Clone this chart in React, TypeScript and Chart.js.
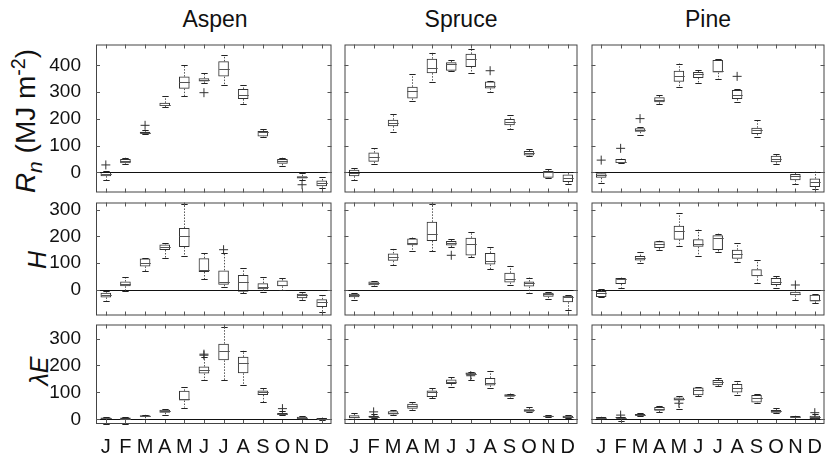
import React, { useEffect, useRef } from 'react';
import { Chart, registerables } from 'chart.js';

Chart.register(...registerables);

// ---------- DATA ----------
const categories = ['Jan', 'Feb', 'Mar', 'Apr', 'May', 'Jun', 'Jul', 'Aug', 'Sep', 'Oct', 'Nov', 'Dec'];
const monthLetters = ['J', 'F', 'M', 'A', 'M', 'J', 'J', 'A', 'S', 'O', 'N', 'D'];
const speciesNames = ['Aspen', 'Spruce', 'Pine'];

const rnTicks = [0, 100, 200, 300, 400];
const hTicks = [0, 100, 200, 300];
const leTicks = [0, 100, 200, 300];
const rnRange = [-75, 478];
const hRange = [-98, 328];
const leRange = [-17, 352];

// box statistics per month: [min, q1, median, q3, max]
const aspenRn = [
  [-30, -14, -6, 2, 5], [30, 34, 42, 50, 55], [142, 145, 148, 152, 158], [243, 248, 253, 260, 285],
  [286, 313, 338, 358, 400], [335, 340, 346, 352, 370], [327, 358, 387, 415, 437], [255, 274, 288, 312, 325],
  [133, 134, 150, 155, 164], [25, 32, 42, 50, 55], [-30, -23, -18, -14, -2], [-57, -52, -40, -30, -18],
];
const spruceRn = [
  [-29, -14, -2, 10, 18], [30, 40, 58, 74, 91], [152, 173, 185, 197, 218], [268, 276, 303, 320, 367],
  [339, 371, 392, 425, 448], [378, 380, 404, 412, 420], [373, 394, 425, 443, 462], [300, 314, 324, 340, 342],
  [161, 176, 189, 200, 213], [60, 63, 74, 80, 88], [-22, -20, 0, 5, 13], [-44, -36, -20, -8, 3],
];
const pineRn = [
  [-38, -20, -8, -3, 0], [34, 35, 40, 50, 52], [141, 152, 160, 165, 168], [255, 262, 271, 281, 290],
  [320, 339, 360, 380, 407], [333, 353, 366, 375, 382], [349, 373, 378, 420, 422], [263, 274, 288, 308, 310],
  [133, 144, 158, 167, 195], [33, 38, 50, 62, 68], [-43, -29, -15, -6, 3], [-61, -54, -36, -23, 3],
];
const aspenH = [
  [-45, -30, -21, -12, -5], [-4, 12, 22, 30, 46], [70, 87, 100, 117, 118], [120, 149, 160, 170, 175],
  [128, 160, 200, 232, 321], [39, 66, 72, 118, 137], [10, 18, 30, 72, 138], [-15, -8, 27, 55, 80],
  [-8, 1, 11, 24, 46], [-2, 12, 17, 34, 44], [-41, -33, -22, -16, -9], [-85, -66, -48, -37, -21],
];
const spruceH = [
  [-41, -29, -19, -16, -14], [14, 16, 23, 30, 32], [93, 108, 122, 136, 154], [146, 167, 177, 192, 196],
  [144, 183, 211, 255, 321], [160, 166, 177, 183, 191], [122, 128, 171, 195, 216], [77, 94, 106, 138, 159],
  [16, 26, 40, 63, 89], [-15, 11, 24, 30, 45], [-37, -27, -18, -12, -10], [-78, -48, -28, -24, -21],
];
const pineH = [
  [-30, -28, -12, -6, 2], [7, 21, 38, 43, 45], [101, 109, 120, 126, 141], [149, 156, 170, 182, 184],
  [163, 188, 222, 240, 287], [128, 161, 172, 189, 226], [140, 149, 193, 205, 211], [104, 116, 132, 150, 174],
  [26, 50, 55, 76, 110], [4, 17, 30, 43, 52], [-40, -22, -17, -8, 0], [-52, -45, -40, -20, -18],
];
const aspenLE = [
  [-17, 1, 4, 7, 9], [-17, 0, 3, 7, 9], [0, 10, 12, 15, 17], [16, 25, 30, 36, 38],
  [44, 70, 75, 106, 119], [146, 170, 183, 196, 232], [146, 219, 255, 281, 343], [128, 171, 208, 232, 255],
  [64, 91, 103, 107, 117], [16, 17, 21, 24, 33], [0, 2, 6, 10, 12], [-1, 1, 3, 5, 7],
];
const spruceLE = [
  [2, 4, 8, 15, 22], [5, 7, 10, 14, 20], [16, 18, 24, 30, 34], [36, 40, 48, 58, 63],
  [79, 83, 100, 107, 118], [121, 131, 139, 148, 159], [147, 166, 170, 174, 176], [115, 126, 134, 154, 180],
  [81, 84, 89, 93, 96], [27, 28, 34, 38, 45], [10, 11, 13, 14, 16], [4, 5, 9, 14, 15],
];
const pineLE = [
  [3, 4, 7, 9, 10], [-5, 5, 7, 9, 10], [12, 14, 17, 20, 22], [26, 32, 40, 46, 50],
  [37, 70, 76, 81, 85], [85, 90, 110, 118, 120], [124, 127, 138, 146, 153], [92, 100, 118, 131, 141],
  [62, 63, 78, 91, 94], [22, 25, 30, 35, 41], [-15, 7, 10, 13, 14], [1, 2, 8, 14, 20],
];

// outliers: [month, value]
const aspenRnOut = [['Jan', 28], ['Mar', 176], ['Jun', 298], ['Nov', -46]];
const spruceRnOut = [['Aug', 380]];
const pineRnOut = [['Jan', 46], ['Feb', 90], ['Mar', 201], ['Aug', 359]];
const aspenHOut = [['Jul', 150]];
const spruceHOut = [['Jun', 129]];
const pineHOut = [['Nov', 17]];
const aspenLEOut = [['Jun', 238], ['Jun', 242], ['Oct', 40]];
const spruceLEOut = [['Feb', 28], ['Jul', 162]];
const pineLEOut = [['Feb', 16], ['May', 60], ['Dec', 25]];

// ---------- LAYOUT ----------
const colLeft = [96, 342, 589];
const colWidth = 238;
const rowTop = [43, 201, 323];
const rowHeight = [152, 117, 101];
const FONT = '"Liberation Sans", Arial, Helvetica, sans-serif';

const rows = [
  { ticks: rnTicks, range: rnRange, stats: [aspenRn, spruceRn, pineRn], outs: [aspenRnOut, spruceRnOut, pineRnOut] },
  { ticks: hTicks, range: hRange, stats: [aspenH, spruceH, pineH], outs: [aspenHOut, spruceHOut, pineHOut] },
  { ticks: leTicks, range: leRange, stats: [aspenLE, spruceLE, pineLE], outs: [aspenLEOut, spruceLEOut, pineLEOut] },
];

function makeDecor(stats: number[][], yTicks: number[]) {
  return {
    id: 'boxDecor',
    afterDatasetsDraw(chart: any) {
      const { ctx, chartArea: a, scales } = chart;
      const x = scales.x;
      const y = scales.y;
      const meta = chart.getDatasetMeta(0);
      ctx.save();
      // zero line
      const y0 = Math.round(y.getPixelForValue(0)) + 0.5;
      ctx.strokeStyle = '#111';
      ctx.lineWidth = 1;
      ctx.beginPath();
      ctx.moveTo(a.left, y0);
      ctx.lineTo(a.right, y0);
      ctx.stroke();
      stats.forEach((s, i) => {
        const px = Math.round(x.getPixelForValue(i)) + 0.5;
        const el = meta.data[i];
        const w = el ? el.width : 10;
        const cap = w * 0.3;
        const pMin = y.getPixelForValue(s[0]);
        const pQ1 = y.getPixelForValue(s[1]);
        const pMed = y.getPixelForValue(s[2]);
        const pQ3 = y.getPixelForValue(s[3]);
        const pMax = y.getPixelForValue(s[4]);
        // whiskers (dotted)
        ctx.strokeStyle = '#555';
        ctx.setLineDash([1.5, 1.5]);
        ctx.beginPath();
        ctx.moveTo(px, pQ3);
        ctx.lineTo(px, pMax);
        ctx.moveTo(px, pQ1);
        ctx.lineTo(px, pMin);
        ctx.stroke();
        ctx.setLineDash([]);
        // caps
        ctx.strokeStyle = '#222';
        ctx.beginPath();
        ctx.moveTo(px - cap, Math.round(pMax) + 0.5);
        ctx.lineTo(px + cap, Math.round(pMax) + 0.5);
        ctx.moveTo(px - cap, Math.round(pMin) + 0.5);
        ctx.lineTo(px + cap, Math.round(pMin) + 0.5);
        ctx.stroke();
        // median
        ctx.strokeStyle = '#555';
        ctx.beginPath();
        ctx.moveTo(px - w / 2, Math.round(pMed) + 0.5);
        ctx.lineTo(px + w / 2, Math.round(pMed) + 0.5);
        ctx.stroke();
      });
      // panel border
      ctx.strokeStyle = '#444';
      ctx.lineWidth = 1;
      ctx.strokeRect(a.left + 0.5, a.top + 0.5, a.right - a.left - 1, a.bottom - a.top - 1);
      // inner tick marks
      ctx.strokeStyle = '#555';
      ctx.beginPath();
      for (let i = 0; i < stats.length; i++) {
        const px = Math.round(x.getPixelForValue(i)) + 0.5;
        ctx.moveTo(px, a.top);
        ctx.lineTo(px, a.top + 4);
        ctx.moveTo(px, a.bottom);
        ctx.lineTo(px, a.bottom - 4);
      }
      yTicks.forEach((v) => {
        const py = Math.round(y.getPixelForValue(v)) + 0.5;
        ctx.moveTo(a.left, py);
        ctx.lineTo(a.left + 4, py);
        ctx.moveTo(a.right, py);
        ctx.lineTo(a.right - 4, py);
      });
      ctx.stroke();
      ctx.restore();
    },
  };
}

function Panel({ r, c }: { r: number; c: number }) {
  const ref = useRef<HTMLCanvasElement>(null);
  const padL = c === 0 ? 70 : 3;
  const padR = 3;
  const padT = 4;
  const padB = r === 2 ? 30 : 3;
  const w = padL + colWidth + padR;
  const h = padT + rowHeight[r] + padB;
  const left = colLeft[c] - padL;
  const top = rowTop[r] - padT;

  useEffect(() => {
    const row = rows[r];
    const stats = row.stats[c];
    const outs = row.outs[c];
    const chart = new Chart(ref.current as HTMLCanvasElement, {
      type: 'bar',
      data: {
        labels: categories,
        datasets: [
          {
            type: 'bar',
            data: stats.map((s) => [s[1], s[3]]),
            borderColor: '#333',
            borderWidth: 1,
            backgroundColor: 'rgba(0,0,0,0)',
            borderSkipped: false,
            barPercentage: 0.54,
            categoryPercentage: 1,
          } as any,
          {
            type: 'line',
            data: outs.map((o) => ({ x: o[0], y: o[1] })),
            showLine: false,
            pointStyle: 'cross',
            pointRadius: 4.5,
            pointBorderWidth: 1,
            borderColor: '#333',
            backgroundColor: '#333',
          } as any,
        ],
      },
      options: {
        responsive: false,
        animation: false,
        devicePixelRatio: 1,
        events: [],
        layout: { padding: { left: 0, right: padR, top: padT, bottom: 0 } },
        plugins: { legend: { display: false }, tooltip: { enabled: false }, title: { display: false } },
        scales: {
          x: {
            type: 'category',
            offset: true,
            grid: { display: false },
            border: { display: false },
            ticks: {
              display: r === 2,
              autoSkip: false,
              maxRotation: 0,
              padding: 3,
              color: '#111',
              font: { family: FONT, size: 20 },
              callback: (_v: any, i: number) => monthLetters[i],
            },
            afterFit: (s: any) => {
              s.height = padB;
              s.paddingLeft = 0;
              s.paddingRight = 0;
            },
          },
          y: {
            type: 'linear',
            min: row.range[0],
            max: row.range[1],
            grid: { display: false },
            border: { display: false },
            ticks: {
              display: c === 0,
              padding: 7,
              color: '#111',
              font: { family: FONT, size: 19 },
            },
            afterBuildTicks: (s: any) => {
              s.ticks = row.ticks.map((v) => ({ value: v }));
            },
            afterFit: (s: any) => {
              s.width = padL;
              s.paddingTop = 0;
              s.paddingBottom = 0;
            },
          },
        },
      } as any,
      plugins: [makeDecor(stats, row.ticks)],
    });
    return () => chart.destroy();
  }, [r, c]);

  return (
    <canvas
      ref={ref}
      width={w}
      height={h}
      style={{ position: 'absolute', left, top, width: w, height: h }}
    />
  );
}

const titleStyle: React.CSSProperties = {
  position: 'absolute',
  fontFamily: FONT,
  color: '#111',
  whiteSpace: 'nowrap',
  lineHeight: 1,
};

function YLabel({ cx, cy, size, children }: { cx: number; cy: number; size: number; children: React.ReactNode }) {
  return (
    <div
      style={{
        ...titleStyle,
        left: cx,
        top: cy,
        fontSize: size,
        transform: 'translate(-50%, -50%) rotate(-90deg)',
      }}
    >
      {children}
    </div>
  );
}

export default function App() {
  const panels = [];
  for (let r = 0; r < 3; r++) for (let c = 0; c < 3; c++) panels.push(<Panel key={`${r}-${c}`} r={r} c={c} />);
  return (
    <div style={{ position: 'fixed', left: 0, top: 0, width: 827, height: 454, background: '#fff', overflow: 'hidden' }}>
      {speciesNames.map((n, i) => (
        <div
          key={n}
          style={{
            ...titleStyle,
            fontSize: 23,
            left: colLeft[i] + colWidth / 2,
            top: 19,
            transform: 'translate(-50%, -50%)',
          }}
        >
          {n}
        </div>
      ))}
      <YLabel cx={27} cy={121} size={28}>
        <i>R</i>
        <sub style={{ fontSize: '0.75em' }}><i>n</i></sub> (MJ m<sup style={{ fontSize: '0.7em' }}>-2</sup>)
      </YLabel>
      <YLabel cx={37} cy={260} size={25}>
        <i>H</i>
      </YLabel>
      <YLabel cx={39} cy={371} size={25}>
        <i>λE</i>
      </YLabel>
      {panels}
    </div>
  );
}
